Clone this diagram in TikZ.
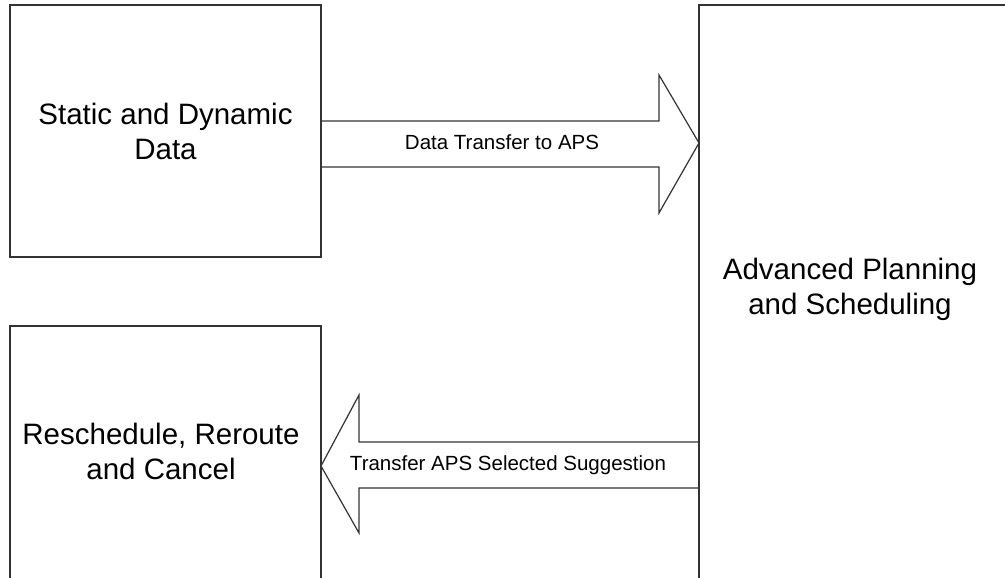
\documentclass[tikz,border=0pt]{standalone}
\usepackage{fontspec}
\setmainfont{Liberation Sans}
\usetikzlibrary{calc}
\begin{document}
\begin{tikzpicture}[x=1pt,y=-1pt,line width=1.2pt,
		panel/.style={draw=black!80,rectangle,inner sep=0pt,outer sep=0pt,align=center,font=\fontsize{29.5}{35}\selectfont},
		blockarrow/.style={draw=black!80,line join=miter},
		caption/.style={inner sep=0pt,font=\fontsize{20.5}{24}\selectfont}]
			\fill [white] (0,0) rectangle (1005,578);
			\useasboundingbox (0,0) rectangle (1005,578);
			\node [panel,minimum width=311,minimum height=252,anchor=north west] (static) at (10,5) {Static and Dynamic\\Data};
			\node [panel,minimum width=311,minimum height=300,anchor=north west] (resched) at (10,326) {};
			\node [panel,minimum width=320,minimum height=620,anchor=north west] (aps) at (699,5) {};
			\node [align=center,font=\fontsize{29.5}{35}\selectfont] (reschedtext) at (161,451) {Reschedule, Reroute\\and Cancel};
			\node [align=center,font=\fontsize{29.5}{35}\selectfont] (apstext) at (850,289) {Advanced Planning\\and Scheduling};
			\draw [blockarrow] (static.east |- 0,121) -- (659,121) -- (659,75) -- (aps.west |- 0,143) -- (659,213) -- (659,167) -- (static.east |- 0,167);
			\draw [blockarrow] (aps.west |- 0,442) -- (359,442) -- (359,395) -- (resched.east |- 0,466) -- (359,533) -- (359,488) -- (aps.west |- 0,488);
			\node [caption] (totransfer) at (502,142) {Data Transfer to APS};
			\node [caption] (backtransfer) at (508,465) {Transfer APS Selected Suggestion};
		\end{tikzpicture}
\end{document}
